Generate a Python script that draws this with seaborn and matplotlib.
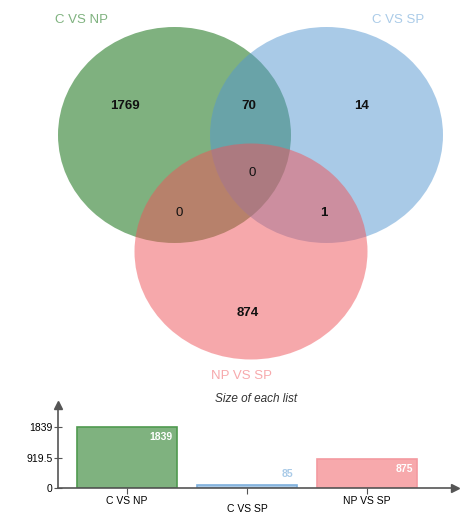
import numpy as np
import pandas as pd
import seaborn as sns
import matplotlib.pyplot as plt
from matplotlib.patches import Ellipse
from matplotlib.transforms import ScaledTranslation

# list names and sizes
list_names = ["C VS NP", "C VS SP", "NP VS SP"]
list_sizes = [1839, 85, 875]
base_colors = ["#006400", "#5597d1", "#ef5359"]
label_colors = ["#7fb27f", "#aacbe8", "#f7a9ac"]
edge_colors = ["#4f9a4f", "#7fb0dd", "#f49aa0"]

# venn region counts
region_names = ["only NP", "NP&SP", "only SP", "all", "NP&SPlist", "SP&SPlist", "only SPlist"]
region_counts = [1769, 70, 14, 0, 0, 1, 874]

plt.rcParams['font.family'] = ['Liberation Sans', 'DejaVu Sans']

fig = plt.figure(figsize=(4.64, 5.15), dpi=100)

# ---- venn part (pixel coordinates)
vax = fig.add_axes([0, 0, 1, 1])
vax.set_xlim(0, 464)
vax.set_ylim(515, 0)
vax.axis("off")

centers = [(174.5, 135), (326.5, 135), (251, 251.5)]
for (cx, cy), col in zip(centers, base_colors):
    vax.add_patch(Ellipse((cx, cy), 233, 216, facecolor=col, alpha=0.5, edgecolor="none"))

name_pos = [(82, 20), (398, 20), (242, 376)]
for (x, y), name, col in zip(name_pos, list_names, label_colors):
    vax.text(x, y, name, color=col, fontsize=9.5, ha="center", va="center")

region_pos = [(125, 106), (249, 106), (362, 106), (252, 173), (179, 213), (324, 213), (248, 313)]
for (x, y), n in zip(region_pos, region_counts):
    vax.text(x, y, str(n), fontsize=9.5, ha="center", va="center", color="#111111",
             fontweight="bold" if n > 0 else "normal")

# ---- bar part
W, H = 464, 515
y0, ytop, x0, xend = 488, 405, 58, 455
px_per_unit = 61 / 1839
ax = fig.add_axes([x0 / W, (H - y0) / H, (xend - x0) / W, (y0 - ytop) / H])
ax.patch.set_alpha(0)

df = pd.DataFrame({"name": list_names, "size": list_sizes})
sns.barplot(data=df, x="name", y="size", hue="name", palette=label_colors,
            saturation=1, width=100 / 120, legend=False, ax=ax)
for p, ec in zip(ax.patches, edge_colors):
    p.set_edgecolor(ec)
    p.set_linewidth(1.2)

ax.set_xlim((x0 - 127) / 120, (xend - 127) / 120)
ax.set_ylim(0, (y0 - ytop) / px_per_unit)
ax.set_xlabel("")
ax.set_ylabel("")

for s in ["top", "right"]:
    ax.spines[s].set_visible(False)
for s in ["left", "bottom"]:
    ax.spines[s].set_color("#555555")
    ax.spines[s].set_linewidth(1.2)
ax.plot(1, 0, ">", color="#555555", markersize=6, transform=ax.transAxes, clip_on=False)
ax.plot(0, 1, "^", color="#555555", markersize=6, transform=ax.transAxes, clip_on=False)

top = max(list_sizes)
ax.set_yticks([0, top / 2, top])
ax.set_yticklabels(["0", f"{top / 2:g}", str(top)])
ax.tick_params(axis="y", direction="inout", length=6, color="#555555", labelsize=7.5, pad=1)
ax.tick_params(axis="x", direction="out", length=4, color="#555555", labelsize=7.5, pad=2)
ax.set_xticks(range(len(list_names)))
ax.set_xticklabels(list_names)
for i, lbl in enumerate(ax.get_xticklabels()):
    if i % 2 == 1:
        lbl.set_transform(lbl.get_transform() + ScaledTranslation(0, -7.5 / 100, fig.dpi_scale_trans))

for i, (v, lc) in enumerate(zip(list_sizes, label_colors)):
    xr = i + 0.5 * 100 / 120 - 4 / 120
    if v * px_per_unit > 20:
        ax.text(xr, v - 10 / px_per_unit, str(v), color="white", fontsize=7.5,
                fontweight="bold", ha="right", va="center")
    else:
        ax.text(xr, v + 11 / px_per_unit, str(v), color=lc, fontsize=7.5,
                fontweight="bold", ha="right", va="center")

ax.set_title("Size of each list", fontsize=8.5, style="italic", color="#333333", pad=0,
             y=1 - (402 - ytop) / (y0 - ytop))

fig.savefig("out.png", dpi=100)
